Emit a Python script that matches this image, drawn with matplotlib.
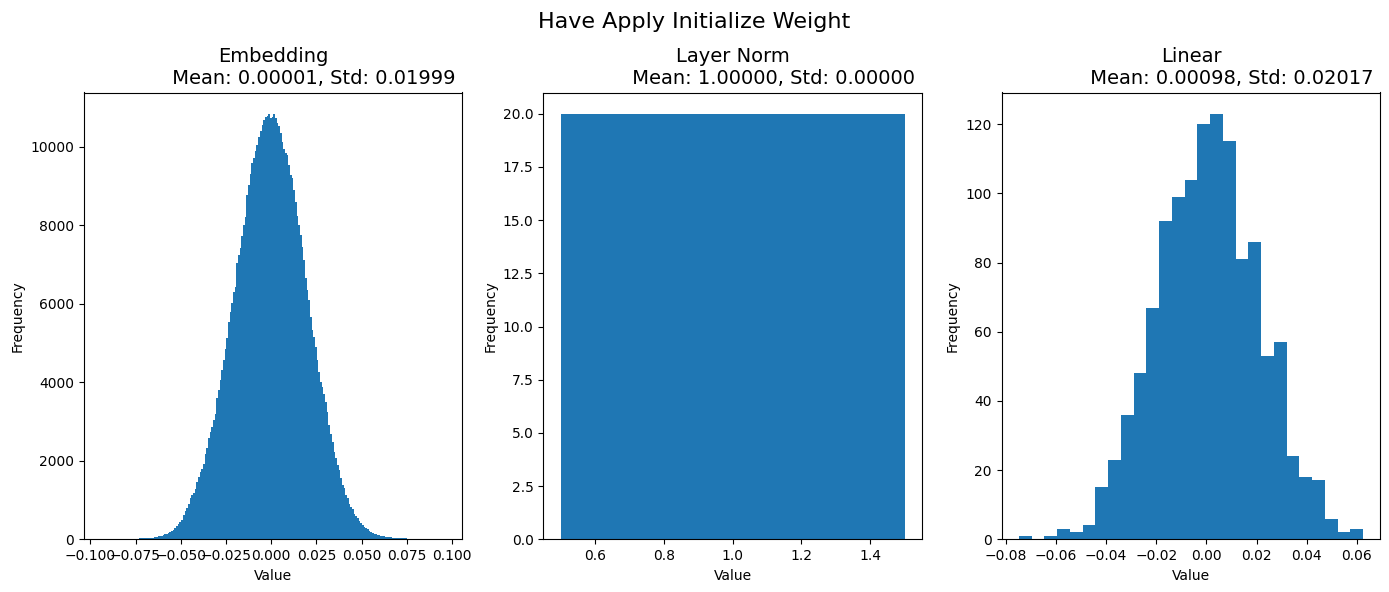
import numpy as np
import matplotlib
matplotlib.use("Agg")
import matplotlib.pyplot as plt

# embedding weights: bar heights, left to right
emb_counts = [
    5, 5, 8, 10, 15, 18, 20, 20, 22, 24, 25, 26, 28, 32, 35, 40, 45, 55, 65, 75,
    85, 95, 110, 125, 145, 165, 190, 215, 245, 285, 330, 385, 440, 500, 610, 720,
    790, 890, 1040, 1120, 1180, 1290, 1460, 1590, 1720, 1800, 1930, 2180, 2330,
    2570, 2740, 2860, 3050, 3200, 3590, 3800, 4050, 4310, 4560, 4840, 5120, 5540,
    5800, 6010, 6310, 6430, 7030, 7240, 7410, 7730, 8010, 8220, 8770, 9030, 9310,
    9580, 9710, 9880, 10050, 10240, 10390, 10560, 10670, 10750, 10790, 10840,
    10730, 10770, 10830, 10730, 10600, 10530, 10340, 10130, 9940, 9830, 9790,
    9540, 9280, 9200, 8900, 8600, 8240, 8010, 7750, 7450, 7110, 6650, 6350, 6090,
    5670, 5330, 5160, 4900, 4560, 4270, 4010, 3880, 3710, 3500, 3250, 2910, 2690,
    2480, 2230, 2060, 1890, 1760, 1550, 1380, 1310, 1120, 1040, 910, 820, 760,
    650, 590, 530, 470, 420, 370, 320, 290, 250, 220, 190, 160, 145, 130, 110,
    100, 95, 85, 75, 68, 60, 55, 50, 45, 40, 38, 35, 32, 30, 28, 25, 22, 20, 18, 15,
]
emb_range = (-0.0803, 0.0780)
emb_xlim = (-0.1037, 0.1056)

# layer norm weights: 20 values, all equal to 1.0
ln_counts = [20]
ln_edges = [0.5, 1.5]

# linear weights: 27 bins
lin_counts = [1, 0, 1, 3, 2, 4, 15, 23, 36, 48, 67, 92, 99, 104, 120, 123, 115,
              81, 86, 53, 57, 24, 18, 17, 6, 2, 3]
lin_range = (-0.0747, 0.0624)

names = ["Embedding", "Layer Norm", "Linear"]
means = [0.00001, 1.00000, 0.00098]
stds = [0.01999, 0.00000, 0.02017]

fig = plt.figure(figsize=(13.89, 5.92), dpi=100)
W, H = 1389, 592
lefts = [83.6, 543.4, 1001.7]
axw = 378.5
top, bottom = 92.5, 539.3
axes = [fig.add_axes([l / W, (H - bottom) / H, axw / W, (bottom - top) / H])
        for l in lefts]

emb_edges = np.linspace(emb_range[0], emb_range[1], len(emb_counts) + 1)
lin_edges = np.linspace(lin_range[0], lin_range[1], len(lin_counts) + 1)

datasets = [(emb_edges, emb_counts), (np.array(ln_edges), ln_counts),
            (lin_edges, lin_counts)]

for ax, name, m, s, (edges, counts) in zip(axes, names, means, stds, datasets):
    ax.hist(edges[:-1], bins=edges, weights=counts, color="#1f77b4")
    ax.set_title(f"{name}\n             Mean: {m:.5f}, Std: {s:.5f}", fontsize=14)
    ax.set_xlabel("Value")
    ax.set_ylabel("Frequency")

axes[0].set_xlim(*emb_xlim)

fig.suptitle("Have Apply Initialize Weight", fontsize=16)
fig.savefig("out.png", dpi=100)
